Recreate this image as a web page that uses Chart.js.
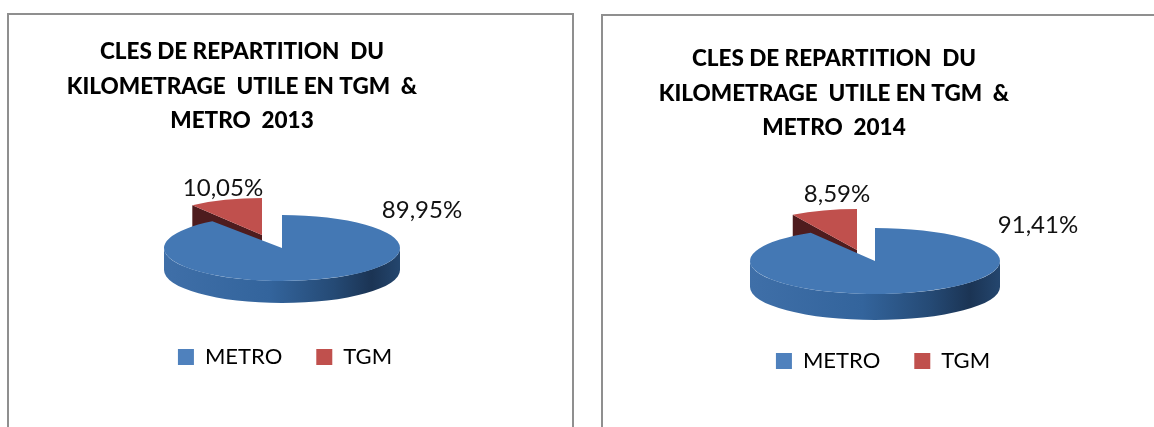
<!DOCTYPE html>
<html><head><meta charset="utf-8">
<style>
html,body{margin:0;padding:0;background:#fff;width:1154px;height:427px;overflow:hidden}
.panel{position:absolute;box-sizing:border-box;border:2px solid #8f8f8f;background:#fff}
canvas{position:absolute;filter:blur(0.4px)}
</style></head><body>
<div class="panel" style="left:7px;top:13px;width:567px;height:440px"></div>
<div class="panel" style="left:601px;top:14px;width:600px;height:440px"></div>
<canvas id="c1" style="left:8px;top:15px"></canvas>
<canvas id="c2" style="left:602px;top:16px"></canvas>
<script src="https://cdn.jsdelivr.net/npm/chart.js@4"></script>
<script>
const categories = ['METRO', 'TGM'];
const values2013 = [89.95, 10.05];
const values2014 = [91.41, 8.59];
const title2013 = ['CLES DE REPARTITION  DU', 'KILOMETRAGE  UTILE EN TGM  &', 'METRO  2013'];
const title2014 = ['CLES DE REPARTITION  DU', 'KILOMETRAGE  UTILE EN TGM  &', 'METRO  2014'];
const sliceColors = ['#4478b4', '#c0504d'];
const legendColors = ['#4f81bd', '#c0504d'];
const FONT = 'Lato, Carlito, sans-serif';

const layout1 = {w:554, h:400, cx:274, cy:233, ry:33, rx:118, depth:22,
  sx:-20, sy:-13, sry:37, titleX:234, titleTop:19, labels:[[414,195],[215,173]], pad:37};
const layout2 = {w:562, h:400, cx:273, cy:245, ry:33, rx:125, depth:26,
  sx:-18, sy:-11, sry:41, titleX:232, titleTop:25, labels:[[436,209],[235,178]], pad:34};

const pie3d = {
  id:'pie3d',
  afterLayout(chart, args, o){
    const t = chart.titleBlock; if(!t) return;
    const d = o.l.titleX - (t.left + t.right)/2;
    t.left += d; t.right += d;
  },
  beforeDatasetsDraw(chart, args, o){
    const l = o.l, ctx = chart.ctx, arcs = chart.getDatasetMeta(0).data;
    const drawSlice = (arc, i) => {
      const p = arc.getProps(['x','y','startAngle','endAngle','outerRadius']);
      const r = l.rx;
      const isMain = i === 0;
      const cx = l.cx + (isMain ? 0 : l.sx), cy = l.cy + (isMain ? 0 : l.sy);
      const ry = isMain ? l.ry : l.sry;
      const k = ry / p.outerRadius;
      if (isMain) {
        const a0 = Math.max(p.startAngle, 0), a1 = Math.min(p.endAngle, Math.PI);
        const g = ctx.createLinearGradient(cx - r, 0, cx + r, 0);
        g.addColorStop(0, '#3f6fa8'); g.addColorStop(0.45, '#33649c');
        g.addColorStop(0.72, '#254a75'); g.addColorStop(0.88, '#1b3454'); g.addColorStop(1, '#24466e');
        ctx.beginPath();
        ctx.ellipse(cx, cy, r, ry, 0, a0, a1);
        ctx.ellipse(cx, cy + l.depth, r, ry, 0, a1, a0, true);
        ctx.closePath(); ctx.fillStyle = g; ctx.fill();
      } else {
        const a = p.startAngle;
        const px = cx + Math.cos(a)*r, py = cy + Math.sin(a)*ry;
        ctx.beginPath();
        ctx.moveTo(px, py); ctx.lineTo(cx, cy); ctx.lineTo(cx, cy + l.depth); ctx.lineTo(px, py + l.depth);
        ctx.closePath(); ctx.fillStyle = '#4e1c1e'; ctx.fill();
      }
      ctx.save();
      ctx.translate(cx, cy);
      ctx.scale(r / p.outerRadius, k);
      ctx.translate(-p.x, -p.y);
      arc.draw(ctx);
      ctx.restore();
    };
    drawSlice(arcs[1], 1);
    drawSlice(arcs[0], 0);
    return false;
  },
  afterDraw(chart, args, o){
    const ctx = chart.ctx, l = o.l, vals = chart.data.datasets[0].data;
    ctx.save();
    ctx.font = '24px ' + FONT; ctx.fillStyle = '#111';
    ctx.textAlign = 'center'; ctx.textBaseline = 'middle';
    vals.forEach((v, i) => ctx.fillText(v.toFixed(2).replace('.', ',') + '%', l.labels[i][0], l.labels[i][1]));
    ctx.restore();
  }
};

function make(id, values, title, l){
  const cv = document.getElementById(id);
  cv.width = l.w; cv.height = l.h; cv.style.width = l.w+'px'; cv.style.height = l.h+'px';
  new Chart(cv, {
    type:'pie',
    data:{labels:categories, datasets:[{data:values, backgroundColor:sliceColors, borderWidth:0}]},
    options:{
      responsive:false, animation:false, radius:100,
      layout:{padding:{bottom:l.pad}},
      plugins:{
        tooltip:{enabled:false},
        pie3d:{l},
        title:{display:true, text:title, color:'#000', padding:{top:l.titleTop + 1, bottom:0},
          font:{family:FONT, size:22.5, weight:'900', lineHeight:1.52}},
        legend:{position:'bottom',
          labels:{boxWidth:16, boxHeight:16, padding:34, color:'#111',
            font:{family:FONT, size:22},
            generateLabels:()=>categories.map((c,i)=>({text:c, fillStyle:legendColors[i], strokeStyle:legendColors[i], lineWidth:0, index:i}))}}
      }
    },
    plugins:[pie3d]
  });
}
make('c1', values2013, title2013, layout1);
make('c2', values2014, title2014, layout2);
</script>
</body></html>
